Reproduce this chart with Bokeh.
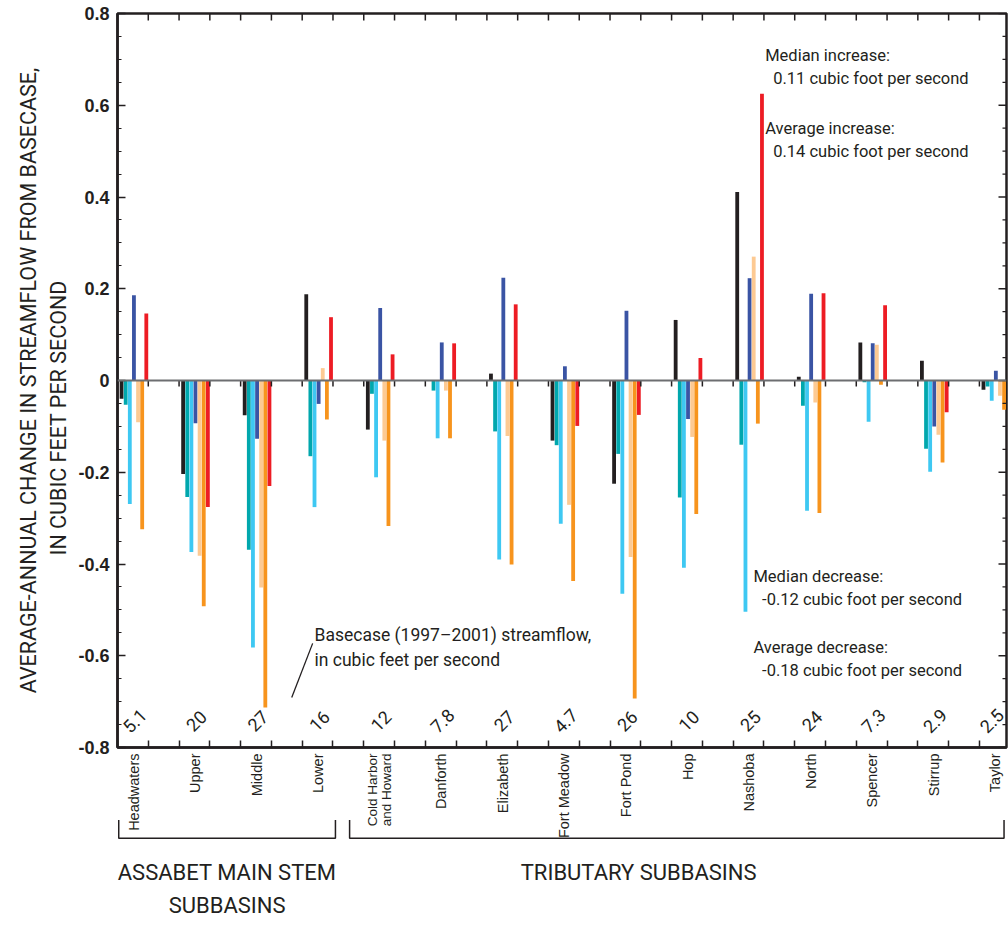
import math
from bokeh.plotting import figure
from bokeh.layouts import column
from bokeh.models import (ColumnDataSource, FixedTicker, LinearAxis, Range1d,
                          Label, Arrow, Span)
from bokeh.core.properties import value
from bokeh.embed import file_html
from bokeh.resources import INLINE

# ---- data -------------------------------------------------------------
subbasins = ["Headwaters", "Upper", "Middle", "Lower", "Cold Harbor and Howard",
             "Danforth", "Elizabeth", "Fort Meadow", "Fort Pond", "Hop",
             "Nashoba", "North", "Spencer", "Stirrup", "Taylor"]
basecase_cfs = ["5.1", "20", "27", "16", "12", "7.8", "27", "4.7", "26", "10",
                "25", "24", "7.3", "2.9", "2.5"]
n_main_stem = 4  # first four subbasins lie on the Assabet main stem

# average-annual change from basecase, cubic feet per second, one list per scenario
scenario_1 = [-0.040, -0.204, -0.076, 0.188, -0.107, 0.000, 0.015, -0.131,
              -0.225, 0.132, 0.411, 0.008, 0.083, 0.043, -0.020]
scenario_2 = [-0.053, -0.254, -0.369, -0.165, -0.029, -0.022, -0.111, -0.141,
              -0.160, -0.255, -0.140, -0.055, -0.004, -0.149, -0.013]
scenario_3 = [-0.269, -0.374, -0.582, -0.276, -0.211, -0.126, -0.390, -0.312,
              -0.465, -0.408, -0.504, -0.284, -0.090, -0.199, -0.044]
scenario_4 = [0.186, -0.093, -0.127, -0.051, 0.158, 0.083, 0.224, 0.031,
              0.152, -0.084, 0.223, 0.189, 0.081, -0.100, 0.021]
scenario_5 = [-0.091, -0.382, -0.451, 0.027, -0.131, -0.022, -0.121, -0.271,
              -0.385, -0.123, 0.270, -0.048, 0.078, -0.118, -0.033]
scenario_6 = [-0.324, -0.492, -0.713, -0.085, -0.317, -0.126, -0.401, -0.437,
              -0.693, -0.291, -0.094, -0.289, -0.009, -0.179, -0.064]
scenario_7 = [0.146, -0.276, -0.230, 0.138, 0.057, 0.081, 0.166, -0.099,
              -0.075, 0.049, 0.625, 0.190, 0.164, -0.069, 0.000]

series = [scenario_1, scenario_2, scenario_3, scenario_4,
          scenario_5, scenario_6, scenario_7]
colors = ["#231f20", "#00a7ad", "#3ec8f2", "#3a54a4",
          "#fdca93", "#f7941d", "#ed1c24"]

y_ticks = [0.8, 0.6, 0.4, 0.2, 0, -0.2, -0.4, -0.6, -0.8]
y_tick_labels = ["0.8", "0.6", "0.4", "0.2", "0", "-0.2", "-0.4", "-0.6", "-0.8"]

INK = "#231f20"
NOTE_FONT = "Roboto"
n = len(subbasins)

# ---- geometry ---------------------------------------------------------
W = 1008
LEFT, RIGHT, TOP, BOTTOM = 117, 2, 13, 13
FRAME_H = 734
H_CHART = TOP + FRAME_H + BOTTOM
H_FOOT = 942 - TOP - FRAME_H          # footer starts right at the bottom axis
X0, X1 = 0.0, 14.44
Y0, Y1 = -0.8, 0.8
px_per_x = (W - LEFT - RIGHT) / (X1 - X0)
px_per_y = FRAME_H / (Y1 - Y0)

# ---- chart ------------------------------------------------------------
p = figure(width=W, height=H_CHART, output_backend="svg", toolbar_location=None,
           x_range=Range1d(X0, X1), y_range=Range1d(Y0, Y1),
           x_axis_location=None, y_axis_location=None,
           min_border_left=LEFT, min_border_right=RIGHT, min_border_top=TOP,
           min_border_bottom=BOTTOM)
p.grid.visible = False
p.outline_line_color = INK
p.outline_line_width = 2.5
p.outline_line_alpha = 1.0

# grouped bars: seven scenarios side by side in the left half of each slot
pitch = 0.067
for k, (vals, col) in enumerate(zip(series, colors)):
    xs = [i + 0.066 + pitch * k for i in range(n)]
    src = ColumnDataSource(dict(x=xs, top=vals))
    p.vbar(x="x", top="top", bottom=0, width=0.062, source=src,
           fill_color=col, line_color=None)

# zero reference line with short ticks hanging below it
p.add_layout(Span(location=0, dimension="width", line_color="#6d6e71",
                  line_width=2))
half_steps = [0.5 * j for j in range(1, 2 * n)]
p.segment(x0=half_steps, x1=half_steps, y0=[0] * len(half_steps),
          y1=[-6 / px_per_y] * len(half_steps), line_color=INK, line_width=1.5)

# inward ticks along the top edge and right edge of the frame
p.segment(x0=half_steps, x1=half_steps, y0=[Y1] * len(half_steps),
          y1=[Y1 - 7 / px_per_y] * len(half_steps), line_color=INK, line_width=1.5)
y_minor = [round(-0.8 + 0.05 * j, 2) for j in range(33)]
tick_len = [8 if any(abs(v - t) < 1e-9 for t in y_ticks) else 4 for v in y_minor]
p.segment(x0=[X1] * len(y_minor), x1=[X1 - L / px_per_x for L in tick_len],
          y0=y_minor, y1=y_minor, line_color=INK, line_width=1.3)

# left axis with labels and inward ticks
ay = LinearAxis(ticker=FixedTicker(ticks=y_ticks, minor_ticks=y_minor))
ay.axis_line_color = INK
ay.axis_line_width = 2.5
ay.major_tick_in = 8
ay.major_tick_out = 0
ay.minor_tick_in = 4
ay.minor_tick_out = 0
ay.major_tick_line_color = INK
ay.minor_tick_line_color = INK
ay.major_tick_line_width = 1.5
ay.minor_tick_line_width = 1.2
ay.major_label_overrides = dict(zip(y_ticks, y_tick_labels))
ay.major_label_text_font = "Liberation Sans"
ay.major_label_text_font_style = "bold"
ay.major_label_text_font_size = "18px"
ay.major_label_text_color = INK
ay.major_label_standoff = 8
# second line sits a little lower than the first; no-break spaces pad its far end
ay.axis_label = ("AVERAGE-ANNUAL CHANGE IN STREAMFLOW FROM BASECASE,\n"
                 "IN CUBIC FEET PER SECOND" + "\u00a0" * 14)
ay.axis_label_text_font = NOTE_FONT
ay.axis_label_text_font_style = "normal"
ay.axis_label_text_font_size = "21.5px"
ay.axis_label_text_color = INK
ay.axis_label_standoff = 4
p.add_layout(ay, "left")

# bottom axis: line plus inward ticks at every half slot
ax = LinearAxis(ticker=FixedTicker(ticks=[], minor_ticks=[0.5 * j for j in range(2 * n)]))
ax.axis_line_color = INK
ax.axis_line_width = 2.5
ax.major_tick_in = 0
ax.major_tick_out = 0
ax.minor_tick_in = 7
ax.minor_tick_out = 0
ax.minor_tick_line_color = INK
ax.minor_tick_line_width = 1.5
ax.major_label_standoff = 0
p.add_layout(ax, "below")

# basecase streamflow of each subbasin, slanted along the bottom
for i, q in enumerate(basecase_cfs):
    p.add_layout(Label(x=min(i + 0.28, 14.2), y=-0.742, text=q, angle=math.pi / 4,
                       text_align="center", text_baseline="middle",
                       text_font=NOTE_FONT, text_font_size="18px", text_color=INK))

p.add_layout(Label(x=3.2, y=-0.554, text="Basecase (1997\u20132001) streamflow,",
                   text_align="left", text_baseline="middle", text_font=NOTE_FONT,
                   text_font_size="17.5px", text_color=INK))
p.add_layout(Label(x=3.2, y=-0.609, text="in cubic feet per second",
                   text_align="left", text_baseline="middle", text_font=NOTE_FONT,
                   text_font_size="17.5px", text_color=INK))
p.add_layout(Arrow(x_start=2.83, y_start=-0.691, x_end=3.17, y_end=-0.573,
                   start=None, end=None, line_color=INK, line_width=1.3))

# summary statistics
notes = [
    (10.52, 0.709, "Median increase:"),
    (10.65, 0.659, "0.11 cubic foot per second"),
    (10.52, 0.550, "Average increase:"),
    (10.65, 0.500, "0.14 cubic foot per second"),
    (10.33, -0.428, "Median decrease:"),
    (10.47, -0.478, "-0.12 cubic foot per second"),
    (10.33, -0.583, "Average decrease:"),
    (10.47, -0.633, "-0.18 cubic foot per second"),
]
for x, y, txt in notes:
    p.add_layout(Label(x=x, y=y, text=txt, text_align="left",
                       text_baseline="middle", text_font=NOTE_FONT,
                       text_font_size="16.5px", text_color=INK))

# ---- footer: subbasin names and grouping brackets ----------------------
foot_top = Y0
foot_bottom = foot_top - H_FOOT / px_per_y
f = figure(width=W, height=H_FOOT, output_backend="svg", toolbar_location=None,
           x_range=Range1d(X0, X1), y_range=Range1d(foot_bottom, foot_top),
           x_axis_location=None, y_axis_location=None,
           min_border_left=LEFT, min_border_right=RIGHT, min_border_top=0,
           min_border_bottom=0, margin=(-BOTTOM, 0, 0, 0))
f.grid.visible = False
f.outline_line_color = None
f.background_fill_alpha = 0
f.border_fill_alpha = 0

label_y = Y0 - 6 / px_per_y
single = [(i + 0.26, nm) for i, nm in enumerate(subbasins) if nm != "Cold Harbor and Howard"]
f.text(x=[s[0] for s in single], y=[label_y] * len(single), text=[s[1] for s in single],
       angle=math.pi / 2, text_align="right", text_baseline="middle",
       text_font=value("Liberation Sans"), text_font_size="14.5px", text_color=INK)
ch = subbasins.index("Cold Harbor and Howard")
f.text(x=[ch + 0.26 - 7 / px_per_x, ch + 0.26 + 7 / px_per_x], y=[label_y] * 2,
       text=["Cold Harbor", "and Howard"], angle=math.pi / 2, text_align="right",
       text_baseline="middle", text_font=value("Liberation Sans"),
       text_font_size="13.5px", text_color=INK)

br_top, br_bot = -0.958, -0.998
spans = [(X0 + 0.02, n_main_stem - 1 + 0.54), (n_main_stem - 0.23, X1 - 0.04)]
f.multi_line(xs=[[a, a, b, b] for a, b in spans],
             ys=[[br_top, br_bot, br_bot, br_top] for _ in spans],
             line_color=INK, line_width=1.5)

mid_main = (spans[0][0] + spans[0][1]) / 2
mid_trib = (spans[1][0] + spans[1][1]) / 2 - 0.62
f.text(x=[mid_main, mid_main, mid_trib], y=[-1.072, -1.144, -1.072],
       text=["ASSABET MAIN STEM", "SUBBASINS", "TRIBUTARY SUBBASINS"],
       text_align="center", text_baseline="middle", text_font=value(NOTE_FONT),
       text_font_size="22px", text_color=INK)

open("out.html", "w").write(file_html(column(p, f, spacing=0), INLINE))
